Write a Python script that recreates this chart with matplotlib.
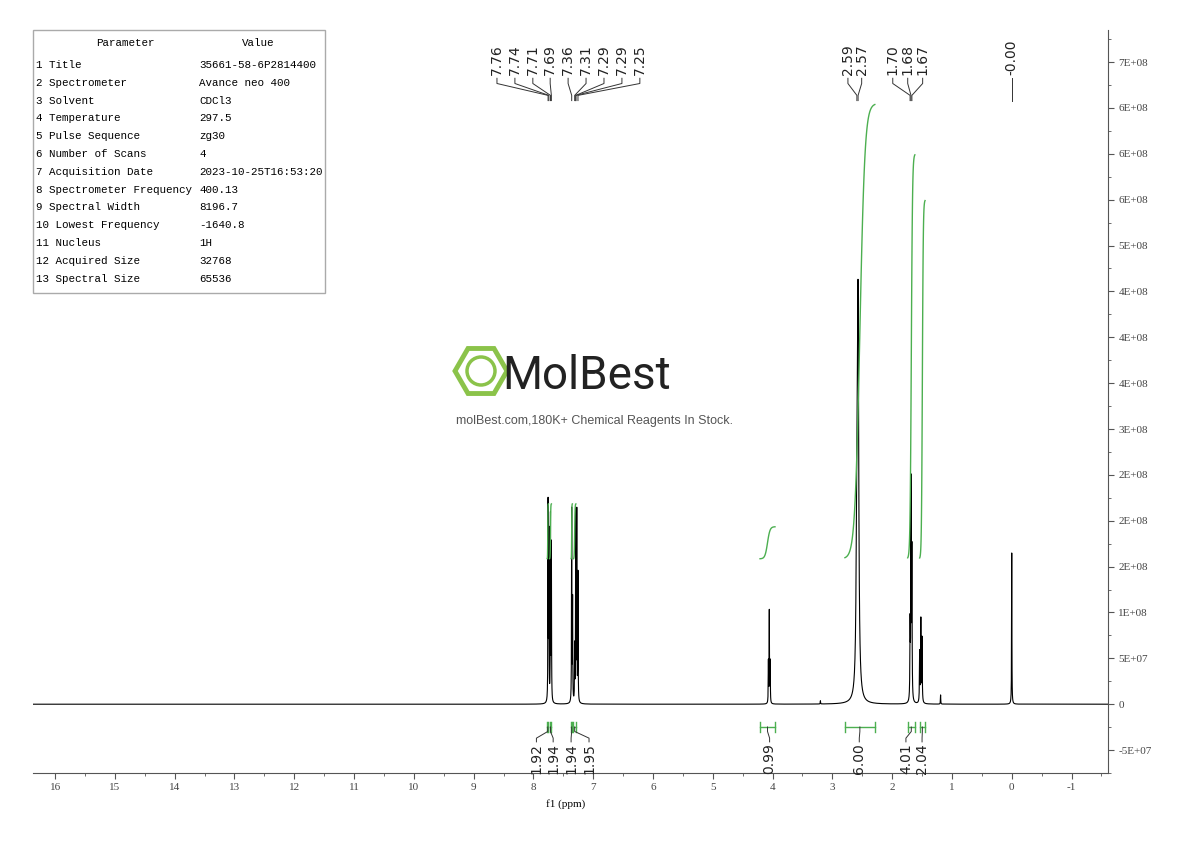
import numpy as np
import matplotlib.pyplot as plt
from matplotlib.patches import RegularPolygon, Circle, Rectangle
import matplotlib.transforms as mtrans

# peak list: (ppm, height, half width)
peak_ppm = [7.755, 7.742, 7.715, 7.700, 7.360, 7.345, 7.310, 7.292, 7.275, 7.255,
            4.070, 4.055, 4.040, 2.590, 2.570, 1.700, 1.685, 1.670,
            1.540, 1.520, 1.500, 1.190, 3.200, 0.000]
peak_height = [4.3, 3.6, 4.0, 3.4, 4.2, 2.2, 1.2, 4.1, 4.1, 2.8,
               0.9, 2.0, 0.9, 3.8, 8.1, 1.6, 4.7, 3.2,
               1.1, 1.8, 1.4, 0.2, 0.07, 3.3]
peak_width = [0.003] * 13 + [0.013, 0.013] + [0.004] * 6 + [0.003, 0.003, 0.003]

# integrals: (start, end, y start, y end)
int_start = [7.77, 7.73, 7.37, 7.33, 4.21, 2.79, 1.74, 1.54]
int_end = [7.75, 7.70, 7.35, 7.29, 3.96, 2.29, 1.62, 1.45]
int_y0 = [3.17, 3.17, 3.17, 3.17, 3.17, 3.17, 3.17, 3.17]
int_y1 = [4.37, 4.37, 4.37, 4.37, 3.87, 13.1, 12.0, 11.0]
int_values = ['1.92', '1.94', '1.94', '1.95', '0.99', '6.00', '4.01', '2.04']
int_label_x = [7.95, 7.67, 7.37, 7.07, 4.05, 2.55, 1.77, 1.50]

shift_labels = ['7.76', '7.74', '7.71', '7.69', '7.36', '7.31', '7.29', '7.29', '7.25',
                '2.59', '2.57', '1.70', '1.68', '1.67', '-0.00']
shift_peak = [7.755, 7.742, 7.715, 7.70, 7.36, 7.31, 7.292, 7.29, 7.255,
              2.59, 2.57, 1.70, 1.685, 1.67, 0.0]
shift_text_x = [8.61, 8.31, 8.01, 7.72, 7.42, 7.12, 6.82, 6.52, 6.22,
                2.74, 2.51, 1.99, 1.74, 1.49, 0.0]

ytick_labels = ['-5E+07', '0', '5E+07', '1E+08', '2E+08', '2E+08', '2E+08', '3E+08',
                '4E+08', '4E+08', '4E+08', '5E+08', '6E+08', '6E+08', '6E+08', '7E+08']

params = ['Title', 'Spectrometer', 'Solvent', 'Temperature', 'Pulse Sequence',
          'Number of Scans', 'Acquisition Date', 'Spectrometer Frequency',
          'Spectral Width', 'Lowest Frequency', 'Nucleus', 'Acquired Size', 'Spectral Size']
values = ['35661-58-6P2814400', 'Avance neo 400', 'CDCl3', '297.5', 'zg30', '4',
          '2023-10-25T16:53:20', '400.13', '8196.7', '-1640.8', '1H', '32768', '65536']

green = '#4caf50'
serif = 'Liberation Serif'
mono = 'Liberation Mono'

fig = plt.figure(figsize=(11.9, 8.41), dpi=100)
ax = fig.add_axes([33 / 1190, 68 / 841, 1075 / 1190, 743 / 841])

x = np.linspace(-1.7, 16.5, 60000)
y = np.zeros_like(x)
for p, h, w in zip(peak_ppm, peak_height, peak_width):
    y += h / (1 + ((x - p) / w) ** 2)
ax.plot(x, y, color='black', lw=0.8)

for a, b, y0, y1 in zip(int_start, int_end, int_y0, int_y1):
    xs = np.linspace(a, b, 100)
    t = np.linspace(-3, 3, 100)
    ys = y0 + (y1 - y0) * (0.5 + 0.5 * np.tanh(t))
    ax.plot(xs, ys, color=green, lw=1)

ax.set_xlim(16.37, -1.61)
ax.set_ylim(-1.46, 14.7)

for s in ['left', 'top']:
    ax.spines[s].set_visible(False)
ax.spines['right'].set_color('#555555')
ax.spines['bottom'].set_color('#555555')
ax.yaxis.tick_right()
ax.set_yticks(np.arange(-1, 15))
ax.set_yticklabels(ytick_labels, fontsize=8, family=serif, color='#444444')
ax.set_yticks(np.arange(-1.5, 15, 1), minor=True)
ax.set_xticks(np.arange(-1, 17))
ax.set_xticks(np.arange(-1.5, 16.5, 0.5), minor=True)
ax.set_xticklabels([str(v) for v in range(-1, 17)], fontsize=8, family=serif, color='#444444')
ax.tick_params(direction='out', length=4, color='#555555')
ax.tick_params(which='minor', length=2, color='#555555')
ax.set_xlabel('f1 (ppm)', fontsize=8, family=serif, labelpad=0)
ax.xaxis.set_label_coords(0.495, -0.035)

# integral brackets and values below the baseline
tr = mtrans.blended_transform_factory(ax.transData, ax.transAxes)
by = (773 - 727) / 743
for a, b, v, lx in zip(int_start, int_end, int_values, int_label_x):
    ax.plot([a, b], [by, by], color=green, lw=1, transform=tr)
    ax.plot([a, a], [by - 0.007, by + 0.007], color=green, lw=1, transform=tr)
    ax.plot([b, b], [by - 0.007, by + 0.007], color=green, lw=1, transform=tr)
    mid = (a + b) / 2
    ax.plot([mid, mid, lx, lx], [by, by - 0.006, by - 0.015, by - 0.02],
            color='#333333', lw=0.7, transform=tr)
    ax.text(lx, by - 0.022, v, rotation=90, ha='center', va='top', fontsize=10,
            color='#222222', transform=tr)

# chemical shift labels at the top
for lab, px, tx in zip(shift_labels, shift_peak, shift_text_x):
    ax.plot([tx, tx, px, px], [0.935, 0.928, 0.912, 0.905], color='#333333', lw=0.7,
            transform=tr, clip_on=False)
    ax.text(tx, 0.94, lab, rotation=90, ha='center', va='bottom', fontsize=10,
            color='#222222', transform=tr)

# parameter table
fig.patches.append(Rectangle((33 / 1190, 1 - 293 / 841), 292 / 1190, 263 / 841,
                             transform=fig.transFigure, fill=False, ec='#aaaaaa', lw=1))
fig.text(125 / 1190, 1 - 43 / 841, 'Parameter', ha='center', va='center', fontsize=7.8, family=mono)
fig.text(258 / 1190, 1 - 43 / 841, 'Value', ha='center', va='center', fontsize=7.8, family=mono)
for i, (p, v) in enumerate(zip(params, values)):
    yy = 1 - (65 + i * 17.8) / 841
    fig.text(36 / 1190, yy, f'{i + 1} {p}', va='center', fontsize=7.8, family=mono)
    fig.text(199 / 1190, yy, v, va='center', fontsize=7.8, family=mono)

# watermark
fig.patches.append(RegularPolygon((481, 841 - 371), 6, radius=26, orientation=np.pi / 6,
                                  transform=None, fill=False, ec='#8bc34a', lw=3.5))
fig.patches.append(Circle((481, 841 - 371), 14, transform=None, fill=False, ec='#8bc34a', lw=2.5))
fig.text(587 / 1190, 1 - 376 / 841, 'MolBest', ha='center', va='center', fontsize=33,
         family='Roboto', color='#222222', fontstretch='condensed')
fig.text(594 / 1190, 1 - 421 / 841, 'molBest.com,180K+ Chemical Reagents In Stock.',
         ha='center', va='center', fontsize=9, family='Liberation Sans', color='#555555')

fig.savefig('out.png', dpi=100)
